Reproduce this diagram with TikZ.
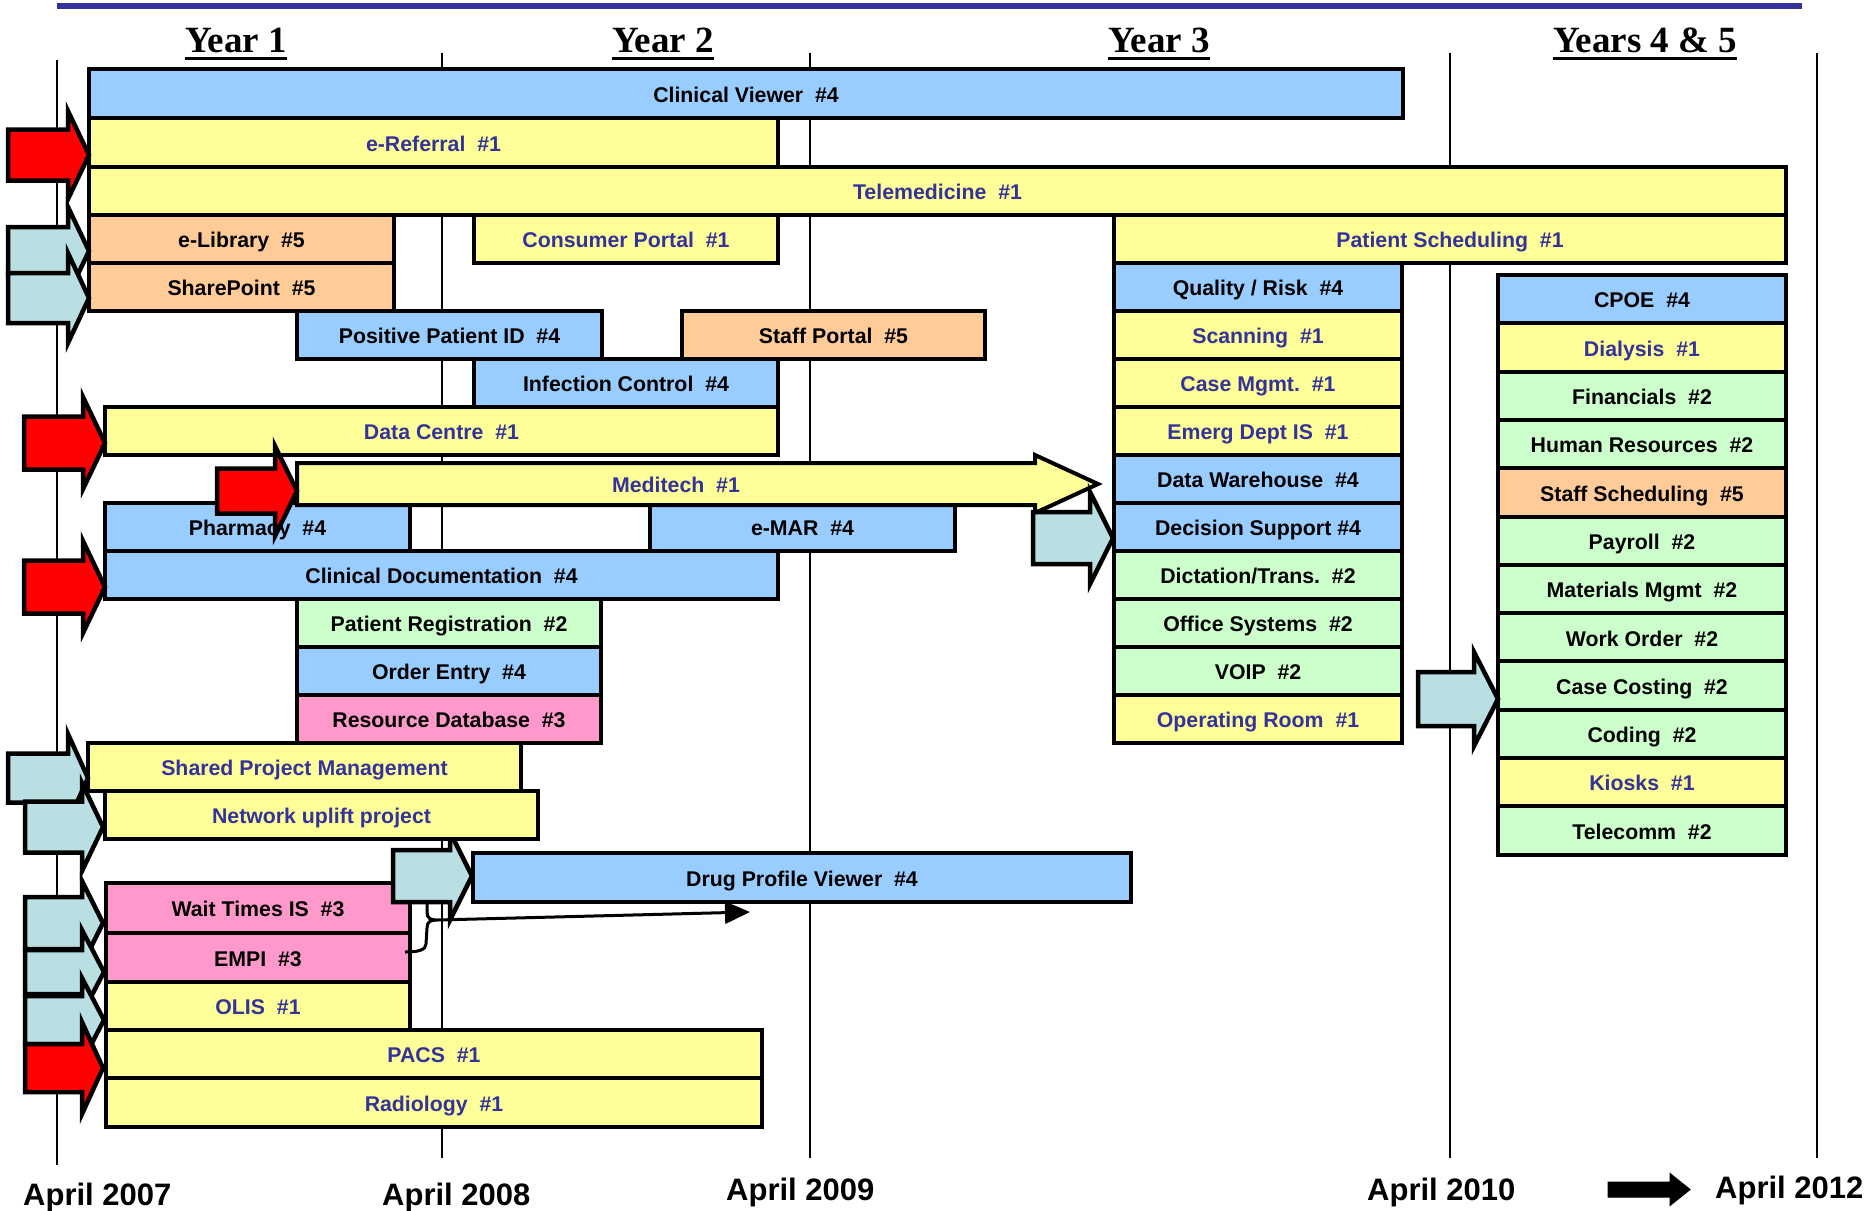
\documentclass[tikz,border=0pt]{standalone}
\usepackage{fontspec}
\setmainfont{Liberation Sans}
\newfontfamily\yearfont{Liberation Serif}
\usetikzlibrary{arrows.meta}
\definecolor{cblue}{HTML}{99CCFF}
\definecolor{cyellow}{HTML}{FFFF99}
\definecolor{corange}{HTML}{FFCC99}
\definecolor{cgreen}{HTML}{CCFFCC}
\definecolor{cpink}{HTML}{FF99CC}
\definecolor{clb}{HTML}{B9DFE2}
\definecolor{ctext}{HTML}{333399}
\newcommand\bx[7]{%
  \pgfmathsetmacro\bxw{#4-(#2)}%
  \pgfmathsetmacro\bxh{#5-(#3)}%
  \pgfmathsetmacro\bxcx{(#2+#4)/2}%
  \pgfmathsetmacro\bxcy{(#3+#5)/2}%
  \node[#6, minimum width=\bxw pt, minimum height=\bxh pt] (#1) at (\bxcx,\bxcy) {#7};}
% style, xtail, xbase, xtip, yc, body half, head half
\newcommand\blkarrow[7]{%
  \draw[#1] ({#2},{#5-#6}) -- ({#3},{#5-#6}) -- ({#3},{#5-#7}) -- ({#4},{#5}) -- ({#3},{#5+#7}) -- ({#3},{#5+#6}) -- ({#2},{#5+#6}) -- cycle;}
\begin{document}
\begin{tikzpicture}[x=1pt,y=-1pt,
  box/.style={draw=black, line width=4pt, inner sep=0pt, text height=17.5pt, text depth=0pt,
    font=\bfseries\fontsize{21.3}{24}\selectfont, anchor=center},
  bbox/.style={box, fill=cblue},
  ybox/.style={box, fill=cyellow, text=ctext},
  obox/.style={box, fill=corange},
  gbox/.style={box, fill=cgreen},
  pbox/.style={box, fill=cpink},
  arr/.style={draw=black, line width=4.5pt, line join=miter, miter limit=10},
  redarr/.style={arr, fill=red},
  lbarr/.style={arr, fill=clb},
  yarr/.style={arr, line width=4pt, fill=cyellow},
  vline/.style={line width=2pt, black},
  yearlbl/.style={font=\yearfont\bfseries\fontsize{37}{40}\selectfont, inner sep=0pt, anchor=base},
  uline/.style={line width=3pt},
  datelbl/.style={font=\bfseries\fontsize{31}{34}\selectfont, inner sep=0pt, anchor=base west}]
\useasboundingbox (0,0) rectangle (1873,1210);

% top rule
\draw[line width=6pt, ctext] (57,6) -- (1802,6);

% timeline verticals
\draw[vline] (57,60) -- (57,1165);
\draw[vline] (442,53) -- (442,1158);
\draw[vline] (810,53) -- (810,1158);
\draw[vline] (1450,53) -- (1450,1158);
\draw[vline] (1817,53) -- (1817,1158);

% year headers
\node[yearlbl] (y1) at (236,52) {Year 1};
\node[yearlbl] (y2) at (663,52) {Year 2};
\node[yearlbl] (y3) at (1159,52) {Year 3};
\node[yearlbl] (y45) at (1645,52) {Years 4 \& 5};
\foreach \n in {y1,y2,y3,y45}
  \draw[uline] ([yshift=-6.5pt]\n.base west) -- ([yshift=-6.5pt]\n.base east);

% boxes
\bx{cv}{89}{69}{1403}{118}{bbox}{Clinical Viewer~~\#4}
\bx{eref}{89}{118}{778}{166.5}{ybox}{e-Referral~~\#1}
\bx{tele}{89}{166.5}{1786}{215}{ybox}{Telemedicine~~\#1}
\bx{elib}{89}{215}{394}{263}{obox}{e-Library~~\#5}
\bx{cons}{474}{215}{778}{263}{ybox}{Consumer Portal~~\#1}
\bx{psched}{1114}{215}{1786}{263}{ybox}{Patient Scheduling~~\#1}
\bx{share}{89}{263}{394}{310.5}{obox}{SharePoint~~\#5}
\bx{qr}{1114}{263}{1402}{310.5}{bbox}{Quality / Risk~~\#4}
\bx{ppid}{297}{310.5}{602}{358.5}{bbox}{Positive Patient ID~~\#4}
\bx{staffp}{682}{310.5}{985}{358.5}{obox}{Staff Portal~~\#5}
\bx{scan}{1114}{310.5}{1402}{358.5}{ybox}{Scanning~~\#1}
\bx{infc}{474}{358.5}{778}{406.5}{bbox}{Infection Control~~\#4}
\bx{casem}{1114}{358.5}{1402}{406.5}{ybox}{Case Mgmt.~~\#1}
\bx{datac}{105}{406.5}{778}{455}{ybox}{Data Centre~~\#1}
\bx{emerg}{1114}{406.5}{1402}{455}{ybox}{Emerg Dept IS~~\#1}
\bx{dw}{1114}{455}{1402}{503}{bbox}{Data Warehouse~~\#4}
\bx{pharm}{105}{503}{410}{551}{bbox}{Pharmacy~~\#4}
\bx{emar}{650}{503}{955}{551}{bbox}{e-MAR~~\#4}
\bx{ds}{1114}{503}{1402}{551}{bbox}{Decision Support \#4}
\bx{cdoc}{105}{551}{778}{599}{bbox}{Clinical Documentation~~\#4}
\bx{dict}{1114}{551}{1402}{599}{gbox}{Dictation/Trans.~~\#2}
\bx{preg}{297}{599}{601}{647}{gbox}{Patient Registration~~\#2}
\bx{office}{1114}{599}{1402}{647}{gbox}{Office Systems~~\#2}
\bx{order}{297}{647}{601}{695}{bbox}{Order Entry~~\#4}
\bx{voip}{1114}{647}{1402}{695}{gbox}{VOIP~~\#2}
\bx{resdb}{297}{695}{601}{743}{pbox}{Resource Database~~\#3}
\bx{orm}{1114}{695}{1402}{743}{ybox}{Operating Room~~\#1}
\bx{spm}{88}{743}{521}{790.5}{ybox}{Shared Project Management}
\bx{dpv}{473}{853}{1131}{902}{bbox}{Drug Profile Viewer~~\#4}
\bx{wait}{106}{883}{410}{933}{pbox}{Wait Times IS~~\#3}
\bx{empi}{106}{933}{410}{982}{pbox}{EMPI~~\#3}
\bx{olis}{106}{982}{410}{1030}{ybox}{OLIS~~\#1}
\bx{pacs}{106}{1030}{762}{1078}{ybox}{PACS~~\#1}
\bx{radio}{106}{1078}{762}{1127}{ybox}{Radiology~~\#1}

% years 4 & 5 column
\bx{cpoe}{1498}{275}{1786}{323.3}{bbox}{CPOE~~\#4}
\bx{dial}{1498}{323.3}{1786}{371.6}{ybox}{Dialysis~~\#1}
\bx{fin}{1498}{371.6}{1786}{419.9}{gbox}{Financials~~\#2}
\bx{hr}{1498}{419.9}{1786}{468.2}{gbox}{Human Resources~~\#2}
\bx{staffs}{1498}{468.2}{1786}{516.5}{obox}{Staff Scheduling~~\#5}
\bx{pay}{1498}{516.5}{1786}{564.8}{gbox}{Payroll~~\#2}
\bx{mat}{1498}{564.8}{1786}{613.1}{gbox}{Materials Mgmt~~\#2}
\bx{wo}{1498}{613.1}{1786}{661.4}{gbox}{Work Order~~\#2}
\bx{cc}{1498}{661.4}{1786}{709.7}{gbox}{Case Costing~~\#2}
\bx{cod}{1498}{709.7}{1786}{758}{gbox}{Coding~~\#2}
\bx{kio}{1498}{758}{1786}{806.3}{ybox}{Kiosks~~\#1}
\bx{tel}{1498}{806.3}{1786}{854.6}{gbox}{Telecomm~~\#2}

% Meditech block arrow
\blkarrow{yarr}{297}{1035}{1098}{484}{21}{29}
\node[font=\bfseries\fontsize{21.3}{24}\selectfont, text=ctext, text height=17.5pt, text depth=0pt, inner sep=0pt] (medi) at (676,484) {Meditech~~\#1};

% Drug profile arrow (under the network box)
\blkarrow{lbarr}{393}{450}{472}{876}{26}{44}
\bx{net}{105}{790.5}{538}{838.5}{ybox}{Network uplift project}

% left arrows
\blkarrow{redarr}{8}{68}{89}{155}{25.5}{44}
\blkarrow{lbarr}{8}{68}{89}{251}{24}{44}
\blkarrow{lbarr}{8}{68}{89}{298}{25}{45}
\blkarrow{redarr}{24}{83}{105}{443}{26.5}{46}
\blkarrow{redarr}{217}{275}{297}{491}{22.5}{45}
\blkarrow{redarr}{24}{83}{105}{587}{26.5}{46}
\blkarrow{lbarr}{8}{68}{88}{778}{24.5}{44}
\blkarrow{lbarr}{25}{82}{103}{827}{25.5}{44}
\blkarrow{lbarr}{25}{82}{103}{923}{26}{42}
\blkarrow{lbarr}{25}{82}{104}{972}{22}{42}
\blkarrow{lbarr}{25}{82}{104}{1020}{24}{42}
\blkarrow{redarr}{25}{82}{103}{1068}{24}{46}
\blkarrow{lbarr}{1033}{1090}{1113}{538}{26}{46}
\blkarrow{lbarr}{1418}{1474}{1498}{699}{27}{47}

% brace and connector from Wait Times / EMPI
\draw[line width=3pt] (427,903) -- (427,912) .. controls (427,918) and (430,920) .. (437,920) coordinate (bracetip)
  .. controls (430,920) and (427,922) .. (427,928) -- (426,944) .. controls (426,950) and (418,952) .. (405,952);
\coordinate (dpvend) at (750,912);
\draw[line width=3pt, -{Triangle[length=25pt,width=22pt]}] (bracetip) -- (dpvend);

% bottom dates
\node[datelbl] (d07) at (23,1205) {April 2007};
\node[datelbl] (d08) at (382,1205) {April 2008};
\node[datelbl] (d09) at (726,1200) {April 2009};
\node[datelbl] (d10) at (1367,1200) {April 2010};
\node[datelbl] (d12) at (1715,1198) {April 2012};
\blkarrow{draw=black, fill=black, line width=1pt}{1608}{1670}{1690}{1189.5}{7.5}{16}
\end{tikzpicture}
\end{document}
